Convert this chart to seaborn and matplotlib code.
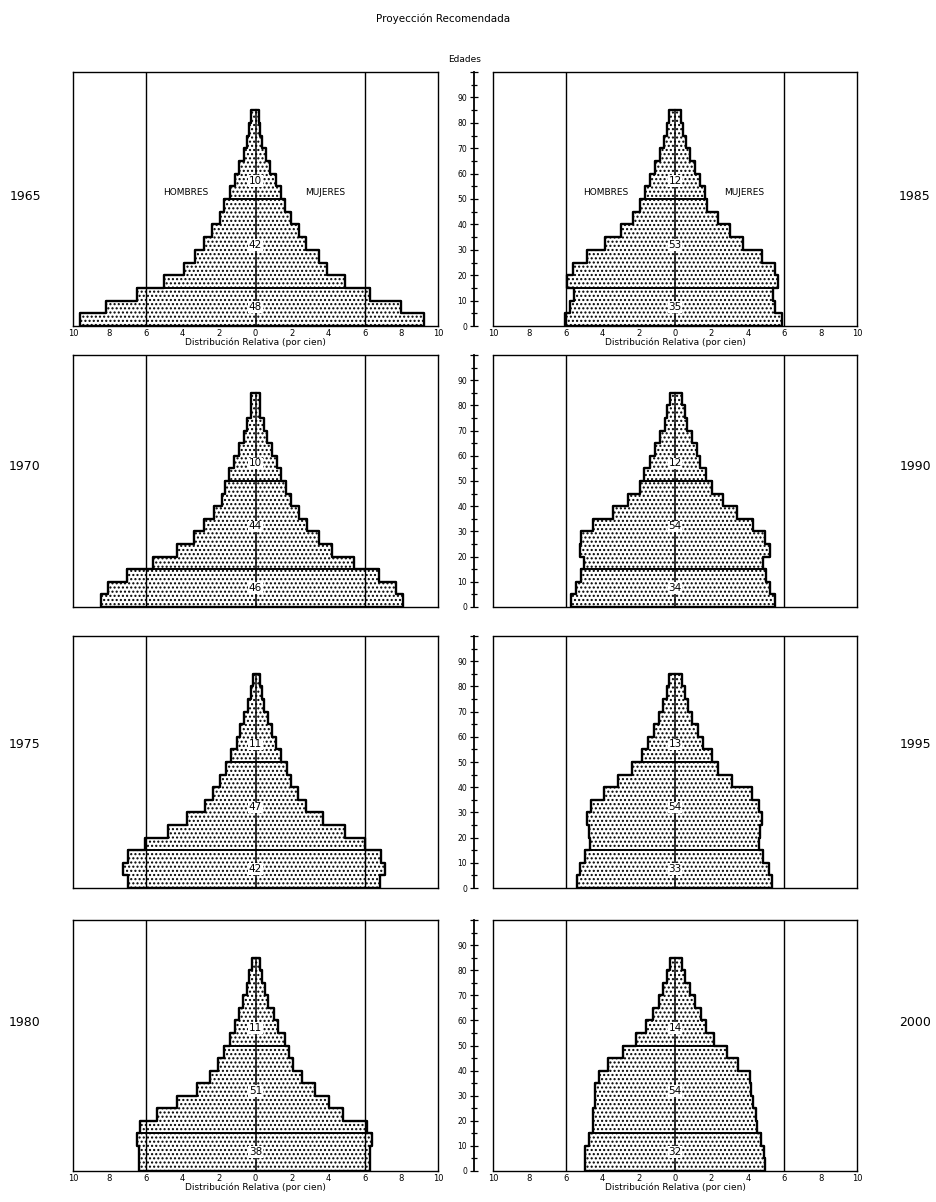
import numpy as np
import pandas as pd
import seaborn as sns
import matplotlib
matplotlib.use("Agg")
import matplotlib.pyplot as plt

# age groups (5-year), lower edge
ages = np.arange(0, 85, 5)

# percent of total population by sex, from 0-4 up to 80-84
m1965 = [9.6, 8.2, 6.5, 5.0, 3.93, 3.29, 2.83, 2.37, 1.92, 1.7, 1.37, 1.1, 0.91, 0.64, 0.46, 0.33, 0.24]
f1965 = [9.26, 7.95, 6.3, 4.9, 3.93, 3.47, 2.74, 2.37, 1.92, 1.64, 1.37, 1.1, 0.82, 0.55, 0.37, 0.24, 0.18]
m1970 = [8.46, 8.06, 7.05, 5.59, 4.3, 3.39, 2.84, 2.29, 1.83, 1.65, 1.47, 1.19, 0.92, 0.64, 0.46, 0.27, 0.22]
f1970 = [8.06, 7.69, 6.78, 5.4, 4.21, 3.48, 2.84, 2.38, 1.92, 1.65, 1.37, 1.19, 0.92, 0.64, 0.46, 0.27, 0.22]
m1975 = [7.01, 7.25, 6.98, 6.03, 4.79, 3.78, 2.78, 2.32, 1.95, 1.59, 1.32, 1.04, 0.86, 0.62, 0.4, 0.26, 0.15]
f1975 = [6.81, 7.09, 6.9, 5.99, 4.89, 3.71, 2.79, 2.34, 1.97, 1.7, 1.39, 1.15, 0.88, 0.66, 0.47, 0.33, 0.24]
m1980 = [6.41, 6.41, 6.5, 6.32, 5.41, 4.31, 3.21, 2.48, 2.03, 1.75, 1.39, 1.11, 0.93, 0.66, 0.47, 0.33, 0.2]
f1980 = [6.25, 6.25, 6.37, 6.1, 4.82, 4.0, 3.27, 2.54, 2.08, 1.81, 1.63, 1.26, 0.99, 0.71, 0.53, 0.35, 0.26]
m1985 = [6.06, 5.78, 5.54, 5.93, 5.63, 4.86, 3.85, 2.94, 2.29, 1.93, 1.65, 1.38, 1.1, 0.83, 0.6, 0.46, 0.31]
f1985 = [5.87, 5.5, 5.41, 5.65, 5.47, 4.77, 3.76, 3.03, 2.39, 1.74, 1.65, 1.38, 1.1, 0.83, 0.6, 0.46, 0.31]
m1990 = [5.74, 5.45, 5.14, 4.99, 5.23, 5.14, 4.5, 3.39, 2.57, 1.93, 1.69, 1.38, 1.1, 0.83, 0.55, 0.46, 0.28]
f1990 = [5.5, 5.23, 5.0, 4.83, 5.23, 4.95, 4.31, 3.39, 2.66, 2.02, 1.69, 1.38, 1.19, 0.92, 0.64, 0.55, 0.37]
m1995 = [5.36, 5.23, 4.92, 4.68, 4.72, 4.81, 4.62, 3.91, 3.12, 2.39, 1.8, 1.47, 1.14, 0.88, 0.64, 0.46, 0.31]
f1995 = [5.32, 5.14, 4.86, 4.62, 4.68, 4.77, 4.62, 4.22, 3.12, 2.39, 2.06, 1.56, 1.28, 0.92, 0.7, 0.55, 0.37]
m2000 = [4.97, 4.94, 4.7, 4.51, 4.51, 4.42, 4.37, 4.18, 3.69, 2.86, 2.13, 1.58, 1.2, 0.9, 0.65, 0.45, 0.3]
f2000 = [4.94, 4.9, 4.75, 4.48, 4.44, 4.26, 4.2, 4.1, 3.47, 2.83, 2.13, 1.69, 1.45, 1.1, 0.8, 0.55, 0.4]

# broad group shares: 0-14, 15-49, 50+
groups1965 = [48, 42, 10]
groups1970 = [46, 44, 10]
groups1975 = [42, 47, 11]
groups1980 = [38, 51, 11]
groups1985 = [35, 53, 12]
groups1990 = [34, 54, 12]
groups1995 = [33, 54, 13]
groups2000 = [32, 54, 14]

years = [1965, 1970, 1975, 1980, 1985, 1990, 1995, 2000]
males = [m1965, m1970, m1975, m1980, m1985, m1990, m1995, m2000]
females = [f1965, f1970, f1975, f1980, f1985, f1990, f1995, f2000]
groups = [groups1965, groups1970, groups1975, groups1980,
          groups1985, groups1990, groups1995, groups2000]

xticks = np.arange(-10, 11, 2)
xticklabels = [str(abs(v)) for v in xticks]

sns.set_style("white")
plt.rcParams['font.family'] = ['DejaVu Sans']
plt.rcParams['hatch.color'] = 'black'
plt.rcParams['hatch.linewidth'] = 1.0
for key in ['text.color', 'axes.labelcolor', 'xtick.color', 'ytick.color']:
    plt.rcParams[key] = 'black'

W, H = 936, 1202
fig = plt.figure(figsize=(W / 100, H / 100), dpi=100)

# frame positions in pixels
col_x = [(73, 365), (493, 364)]
row_y = [(72, 326), (355, 607), (636, 888), (920, 1171)]
year_y = [197, 467, 745, 1022]

for k, year in enumerate(years):
    col = k // 4
    row = k % 4
    x0, w = col_x[col]
    top, bot = row_y[row]
    ax = fig.add_axes([x0 / W, 1 - bot / H, w / W, (bot - top) / H])

    m = np.array(males[k])
    f = np.array(females[k])
    df = pd.DataFrame({
        'edad': np.concatenate([ages + 2.5, ages + 2.5]),
        'pct': np.concatenate([-m, f]),
        'sexo': ['Hombres'] * len(ages) + ['Mujeres'] * len(ages),
    })
    for sexo in ['Hombres', 'Mujeres']:
        sns.barplot(data=df[df.sexo == sexo], x='pct', y='edad', orient='h',
                    native_scale=True, width=1, errorbar=None, color='white',
                    edgecolor='black', linewidth=0, hatch='....', ax=ax)

    # stepped outline of the pyramid
    ys = np.repeat(np.append(ages, 85), 2)[1:-1]
    ax.plot(np.concatenate([[0], -np.repeat(m, 2), [0]]),
            np.concatenate([[0], ys, [85]]), color='black', lw=1.7)
    ax.plot(np.concatenate([[0], np.repeat(f, 2), [0]]),
            np.concatenate([[0], ys, [85]]), color='black', lw=1.7)
    ax.plot([0, 0], [0, 85], color='black', lw=1.1)

    # dividing lines at 15 and 50 years
    for edge in [15, 50]:
        i = edge // 5
        ax.plot([-max(m[i - 1], m[i]), max(f[i - 1], f[i])], [edge, edge],
                color='black', lw=1.4)

    for val, yy in zip(groups[k], [7.5, 32, 57]):
        ax.text(0, yy, str(val), ha='center', va='center', fontsize=7.5,
                bbox=dict(facecolor='white', edgecolor='none', pad=0.6))

    ax.axvline(-6, color='black', lw=1.0)
    ax.axvline(6, color='black', lw=1.0)

    if row == 0:
        ax.text(-3.8, 52.5, 'HOMBRES', ha='center', va='center', fontsize=6.5)
        ax.text(3.8, 52.5, 'MUJERES', ha='center', va='center', fontsize=6.5)

    ax.set_xlim(-10, 10)
    ax.set_ylim(0, 100)
    ax.set_xticks(xticks)
    ax.tick_params(axis='x', direction='in', length=3, width=0.8, labelsize=6, pad=2)
    if row in (0, 3):
        ax.set_xticklabels(xticklabels)
        ax.set_xlabel('Distribución Relativa (por cien)', fontsize=6.5, labelpad=0)
    else:
        ax.set_xticklabels([])
        ax.set_xlabel('')

    for sp in ax.spines.values():
        sp.set_visible(True)
        sp.set_color('black')
        sp.set_linewidth(1.0)

    if col == 1:
        ax.spines['left'].set_position(('outward', 13.7))
        ax.spines['left'].set_linewidth(1.3)
        ax.axvline(-10, color='black', lw=1.0, clip_on=False)
        ax.set_yticks(np.arange(0, 101, 10))
        ax.set_yticklabels([str(v) if v < 100 else '' for v in range(0, 101, 10)])
        ax.set_yticks(np.arange(5, 100, 10), minor=True)
        ax.tick_params(axis='y', which='major', direction='inout', length=6,
                       width=0.9, labelsize=5.5, pad=2, left=True)
        ax.tick_params(axis='y', which='minor', direction='inout', length=5,
                       width=0.9, left=True)
        ax.set_ylabel('')
        fig.text(915 / W, 1 - year_y[row] / H, str(year), ha='center',
                 va='center', fontsize=9)
    else:
        ax.set_yticks([])
        ax.set_ylabel('')
        fig.text(25 / W, 1 - year_y[row] / H, str(year), ha='center',
                 va='center', fontsize=9)

fig.text(443 / W, 1 - 19 / H, 'Proyección Recomendada', ha='center',
         va='center', fontsize=7.5)
fig.text(465 / W, 1 - 60 / H, 'Edades', ha='center', va='center', fontsize=6.5)

fig.savefig('out.png', dpi=100, facecolor='white')
